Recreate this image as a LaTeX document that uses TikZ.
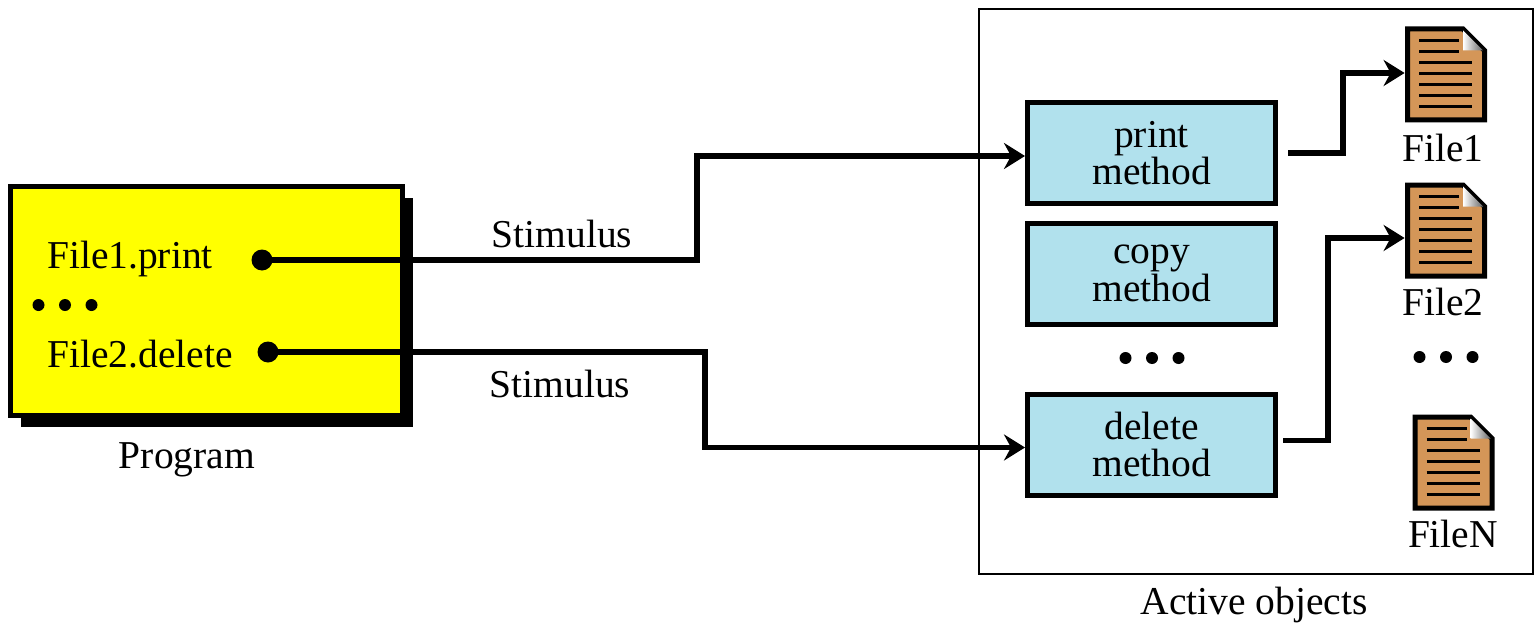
\documentclass[tikz,border=0pt]{standalone}
\usepackage{fontspec}
\setmainfont{Liberation Serif}
\usetikzlibrary{arrows.meta}
\usetikzlibrary{shadows}

\definecolor{progyellow}{RGB}{255,255,0}
\definecolor{methodblue}{RGB}{177,225,237}
\definecolor{filebrown}{RGB}{212,150,88}

\tikzset{
  stim/.style={line width=2.6pt, -{Stealth[length=10.5pt,width=13pt,inset=3.5pt]}},
  progbox/.style={draw, line width=2.5pt, fill=progyellow, minimum width=196pt, minimum height=114.5pt,
    drop shadow={shadow xshift=5pt, shadow yshift=-5.5pt, fill=black, opacity=1}},
  methodbox/.style={draw, line width=2.5pt, fill=methodblue, minimum width=124pt, minimum height=50.5pt, align=center},
  framebox/.style={draw, line width=1pt, minimum width=277pt, minimum height=282.5pt},
  iconbox/.style={minimum width=41pt, minimum height=48pt, inner sep=0},
  bigdot/.style={circle, fill, inner sep=0, minimum size=10.5pt},
  threedots/.pic={\foreach \i in {-1,0,1} \fill (\i*26.5,0) circle (3pt);},
  fileicon/.pic={
    \draw[line width=2.5pt, fill=filebrown] (-38.5,-45.5) -- (17,-45.5) -- (38.5,-24) -- (38.5,45.5) -- (-38.5,45.5) -- cycle;
    \shade[left color=white, right color=black!60] (17,-44) -- (17,-24) -- (37,-24) -- cycle;
    \foreach \y in {-34,-23} \draw[line width=1.3pt] (-27,\y) -- (13,\y);
    \foreach \y in {-12,-1,10,21,32} \draw[line width=1.3pt] (-27,\y) -- (26,\y);
  }
}

\begin{document}
\begin{tikzpicture}[x=0.5pt, y=-0.5pt, font=\fontsize{19.75}{18.75}\selectfont]
\useasboundingbox (0,0) rectangle (1535,626);

% program side
\node(prog) [progbox] at (206.5,301) {};
\node(P1) [anchor=base] at (130,268) {File1.print};
\node(P2) [anchor=base] at (140,367) {File2.delete};
\pic at (65,305) {threedots};
\node(dot1) [bigdot] at (262,260) {};
\node(dot2) [bigdot] at (268,352) {};
\node(progl) [anchor=base] at (187,468) {Program};

% active objects
\node(active) [framebox] at (1256,291.5) {};
\node(activel) [anchor=base] at (1254,614) {Active objects};
\node(print) [methodbox] at (1151.5,153) {print\\method};
\node(copy) [methodbox] at (1151.5,273.5) {copy\\method};
\node(delete) [methodbox] at (1151.5,444.5) {delete\\method};
\pic at (1152,358) {threedots};

\node(file1) [iconbox] at (1446,74.5) {};
\node(file2) [iconbox] at (1446,230.5) {};
\node(fileN) [iconbox] at (1453.5,462.5) {};
\pic at (file1) {fileicon};
\pic at (file2) {fileicon};
\pic at (fileN) {fileicon};
\node(F1) [anchor=base] at (1443,162) {File1};
\node(F2) [anchor=base] at (1443,315) {File2};
\node(FN) [anchor=base] at (1453,547) {FileN};
\pic at (1446,357) {threedots};

% stimuli
\draw[stim] (dot1.center) -- ++(435,0) |- ([yshift=-1.5pt]print.west);
\draw[stim] (dot2.center) -- ++(437,0) |- ([yshift=-1.5pt]delete.west);
\node(S1) [anchor=base] at (562,247) {Stimulus};
\node(S2) [anchor=base] at (560,397) {Stimulus};

\draw[stim] ([xshift=5pt]print.east) -- ++(55,0) |- ([yshift=0.75pt]file1.west);
\draw[stim] ([xshift=2.5pt,yshift=2pt]delete.east) -- ++(45,0) |- ([yshift=-3.75pt]file2.west);
\end{tikzpicture}
\end{document}
